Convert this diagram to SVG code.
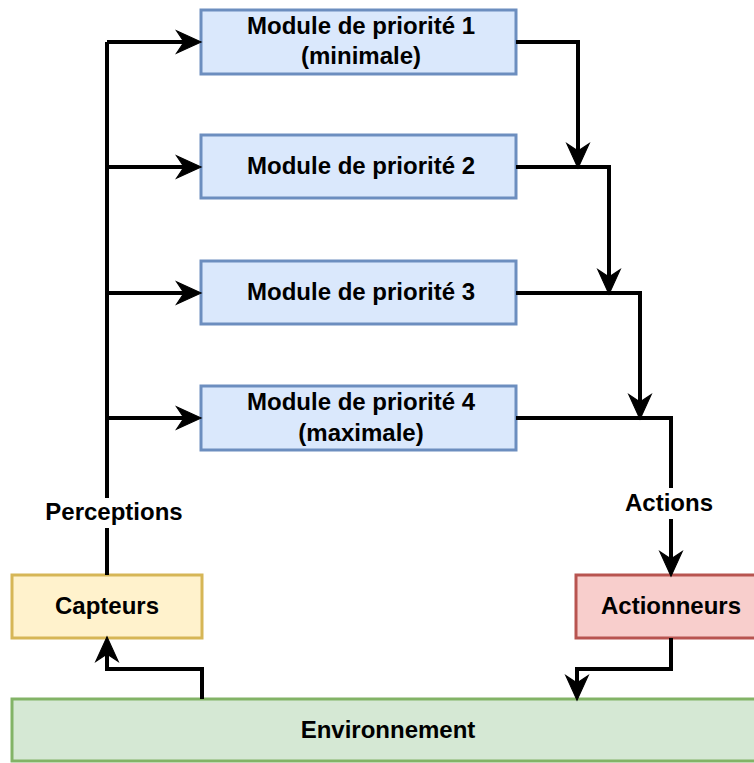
<svg xmlns="http://www.w3.org/2000/svg" width="754" height="763" viewBox="0 0 754 763">
  <style>
    text { font-family: "Liberation Sans", Arial, Helvetica, sans-serif; font-weight: bold; font-size: 24px; fill: #000; text-anchor: middle; }
    .box { stroke-width: 3; }
    .module { fill: #dae8fc; stroke: #6c8ebf; }
    .sensor { fill: #fff2cc; stroke: #d6b656; }
    .actuator { fill: #f8cecc; stroke: #b85450; }
    .env { fill: #d5e8d4; stroke: #82b366; }
    .edge { fill: none; stroke: #000; stroke-width: 4; stroke-linejoin: miter; marker-end: url(#arrow); }
    .line { fill: none; stroke: #000; stroke-width: 4; stroke-linejoin: miter; }
    .lbl-bg { fill: #fff; }
  </style>
  <defs>
    <marker id="arrow" markerUnits="userSpaceOnUse" markerWidth="30" markerHeight="30" viewBox="-2 -12 28 24" refX="7" refY="0" orient="auto" overflow="visible">
      <path d="M0,-10.5 L23,0 L0,10.5 L7,0 Z" fill="#000" stroke="#000" stroke-width="1" stroke-linejoin="miter"/>
    </marker>
  </defs>

  <!-- priority modules -->
  <g id="module1">
    <rect class="box module" x="201" y="10" width="315" height="64"/>
    <text x="361" y="34">Module de priorité 1</text>
    <text x="361" y="64">(minimale)</text>
  </g>
  <g id="module2">
    <rect class="box module" x="201" y="135" width="315" height="63"/>
    <text x="361" y="174">Module de priorité 2</text>
  </g>
  <g id="module3">
    <rect class="box module" x="201" y="261" width="315" height="63"/>
    <text x="361" y="300">Module de priorité 3</text>
  </g>
  <g id="module4">
    <rect class="box module" x="201" y="386" width="315" height="64"/>
    <text x="361" y="410">Module de priorité 4</text>
    <text x="361" y="441">(maximale)</text>
  </g>

  <!-- sensors, actuators, environment -->
  <g id="capteurs">
    <rect class="box sensor" x="12" y="575" width="190" height="63"/>
    <text x="107" y="614">Capteurs</text>
  </g>
  <g id="actionneurs">
    <rect class="box actuator" x="576" y="575" width="190" height="63"/>
    <text x="671" y="614">Actionneurs</text>
  </g>
  <g id="environnement">
    <rect class="box env" x="12" y="699" width="752" height="62"/>
    <text x="388" y="738">Environnement</text>
  </g>

  <!-- connectors -->
  <g id="connectors">
    <!-- perception bus feeding every module -->
    <path class="line" d="M107,575 V42"/>
    <path class="edge" d="M107,42 H184"/>
    <path class="edge" d="M107,167 H184"/>
    <path class="edge" d="M107,293 H184"/>
    <path class="edge" d="M107,418 H184"/>
    <rect class="lbl-bg" x="43" y="498" width="142" height="30"/>
    <text x="114" y="520">Perceptions</text>

    <!-- subsumption chain toward the actuators -->
    <path class="edge" d="M516,42 H578 V151"/>
    <path class="edge" d="M516,167 H609 V277"/>
    <path class="edge" d="M516,293 H640 V402"/>
    <path class="edge" d="M516,418 H671 V559"/>
    <rect class="lbl-bg" x="623" y="488" width="92" height="31"/>
    <text x="669" y="511">Actions</text>

    <!-- environment loop -->
    <path class="edge" d="M202,699 V669 H107 V654"/>
    <path class="edge" d="M671,638 V669 H577 V683"/>
  </g>
</svg>
